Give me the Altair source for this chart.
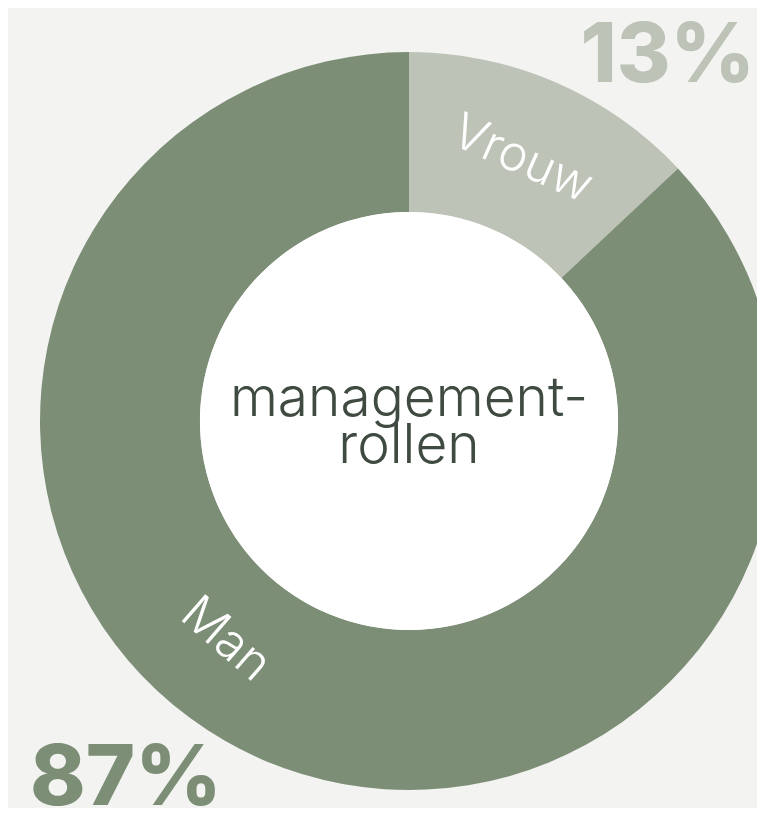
import altair as alt
import pandas as pd

categories = ["Vrouw", "Man"]
shares = [13, 87]
order = [1, 2]
colors = ["#bdc3b7", "#7d8e77"]
label_angles = [23.4, 220]
label_rotations = [24, 41]
center_lines = ["management-", "rollen"]

df = pd.DataFrame({"cat": categories, "share": shares, "ord": order})
lab = pd.DataFrame({"cat": categories, "ang": label_angles, "rot": label_rotations})

CX, CY = 401, 413
R_OUT, R_IN = 369, 209

color_scale = alt.Scale(domain=categories, range=colors)

base = alt.Chart(df)

arcs = base.mark_arc(radius=R_OUT, radius2=R_IN, stroke=None).encode(
    theta=alt.Theta("share:Q", stack=True),
    color=alt.Color("cat:N", scale=color_scale, legend=None),
    order=alt.Order("ord:Q"),
    x=alt.value(CX),
    y=alt.value(CY),
)

inner = alt.Chart(pd.DataFrame({"a": [1]})).mark_arc(radius=R_IN, color="#ffffff").encode(
    theta=alt.value(6.2832), x=alt.value(CX), y=alt.value(CY)
)

labels = alt.Chart(lab).mark_text(
    radius=285, font="Inter", fontSize=49, fontWeight=300, color="#ffffff",
    align="center", baseline="middle"
).encode(
    theta=alt.Theta("ang:Q", stack=False, scale=alt.Scale(domain=[0, 360], range=[0, 6.2832])),
    text="cat:N",
    angle=alt.Angle("rot:Q", scale=None),
    x=alt.value(CX),
    y=alt.value(CY),
)

center1 = alt.Chart(pd.DataFrame({"t": [center_lines[0]]})).mark_text(
    font="Inter", fontSize=55, fontWeight=300, color="#3f4a40", align="center", baseline="alphabetic"
).encode(text="t:N", x=alt.value(CX), y=alt.value(408))
center2 = alt.Chart(pd.DataFrame({"t": [center_lines[1]]})).mark_text(
    font="Inter", fontSize=55, fontWeight=300, color="#3f4a40", align="center", baseline="alphabetic"
).encode(text="t:N", x=alt.value(CX), y=alt.value(455))

pct_v = base.transform_filter(alt.datum.cat == "Vrouw").transform_calculate(
    lbl="datum.share + '%'"
).mark_text(font="Inter", fontSize=82, fontWeight=800, color=colors[0], align="right", baseline="alphabetic").encode(
    text="lbl:N", x=alt.value(747), y=alt.value(74)
)
pct_m = base.transform_filter(alt.datum.cat == "Man").transform_calculate(
    lbl="datum.share + '%'"
).mark_text(font="Inter", fontSize=84, fontWeight=800, color=colors[1], align="left", baseline="alphabetic").encode(
    text="lbl:N", x=alt.value(22), y=alt.value(797)
)

chart = alt.layer(arcs, inner, labels, center1, center2, pct_v, pct_m).resolve_scale(
    theta="independent"
).properties(
    width=749, height=800, padding=0, autosize=alt.AutoSizeParams(type="none"),
    background="#f3f3f1"
).configure_view(stroke=None)

chart.save("out.html", embed_options={"renderer": "svg", "actions": False})
